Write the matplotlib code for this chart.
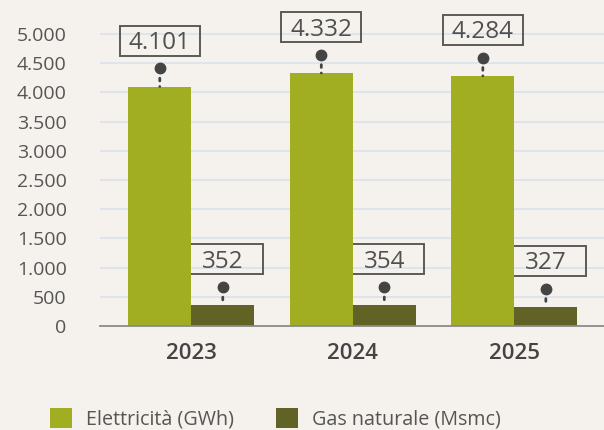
import matplotlib.pyplot as plt
from matplotlib.patches import Rectangle
from matplotlib.transforms import offset_copy, ScaledTranslation
import numpy as np

plt.rcParams['font.family'] = ['Open Sans', 'DejaVu Sans']

years = ['2023', '2024', '2025']
elettricita = [4101, 4332, 4284]
gas = [352, 354, 327]
series_names = ['Elettricità (GWh)', 'Gas naturale (Msmc)']

bg = '#f5f2ed'
green = '#a2ae22'
olive = '#616225'
txt = '#555555'


def fmt(v):
    return f'{v:,.0f}'.replace(',', '.')


def main():
    fig = plt.figure(figsize=(6.04, 4.30), dpi=100, facecolor=bg)
    ax = fig.add_axes([100 / 604, 1 - 326 / 430, 504 / 604, 316 / 430])
    ax.set_facecolor(bg)

    x = np.arange(len(years))
    w = 0.39
    b1 = ax.bar(x - w / 2, elettricita, w, color=green, label=series_names[0], zorder=2)
    b2 = ax.bar(x + w / 2, gas, w, color=olive, label=series_names[1], zorder=2)

    ax.set_xlim(-0.565, 2.555)
    ax.set_ylim(0, 5411)
    yt = np.arange(0, 5001, 500)
    ax.set_yticks(yt)
    ax.set_yticklabels([fmt(v) for v in yt])
    ax.set_xticks(x)
    ax.set_xticklabels(years, fontweight='semibold')
    ax.tick_params(axis='y', length=0, pad=24, labelsize=14, labelcolor=txt)
    ax.tick_params(axis='x', length=0, pad=12, labelsize=16, labelcolor='#444444')

    for yv in yt[1:]:
        ax.axhline(yv, color='#dde2ea', lw=1.3, zorder=1)
    for s in ['top', 'right', 'left']:
        ax.spines[s].set_visible(False)
    ax.spines['bottom'].set_color('#8a8a8a')
    ax.spines['bottom'].set_linewidth(1.3)

    # value callouts: dot, dotted stem, fixed-size box with the number
    dot_tr = offset_copy(ax.transData, fig=fig, y=13, units='points')
    for bars, vals in [(b1, elettricita), (b2, gas)]:
        for bar, v in zip(bars, vals):
            cx = bar.get_x() + bar.get_width() / 2
            ax.annotate('', xy=(cx, v), xytext=(0, 12), textcoords='offset points',
                        arrowprops=dict(arrowstyle='-', linestyle=(0, (1, 2)),
                                        color='#444444', lw=2, shrinkA=0, shrinkB=0))
            ax.plot([cx], [v], 'o', ms=7.5, color='#444444', transform=dot_tr,
                    zorder=4, clip_on=False)
            box_tr = fig.dpi_scale_trans + ScaledTranslation(cx, v, ax.transData)
            ax.add_artist(Rectangle((-0.40, 0.31), 0.80, 0.30, transform=box_tr,
                                    fc='none', ec='#5a5a5a', lw=1.4, clip_on=False))
            ax.annotate(fmt(v), xy=(cx, v), xytext=(0, 31.3), textcoords='offset points',
                        ha='center', va='center', fontsize=17.5, color='#505050',
                        annotation_clip=False)

    fig.legend(handles=[b1, b2], loc='center left', ncol=2, frameon=False,
               bbox_to_anchor=(50 / 604, 1 - 419 / 430), bbox_transform=fig.transFigure,
               fontsize=14.2, labelcolor=txt, handlelength=1.1, handleheight=1.2,
               handletextpad=0.75, columnspacing=2.1, borderpad=0, borderaxespad=0)

    fig.savefig('out.png', dpi=100, facecolor=bg)


if __name__ == '__main__':
    main()
